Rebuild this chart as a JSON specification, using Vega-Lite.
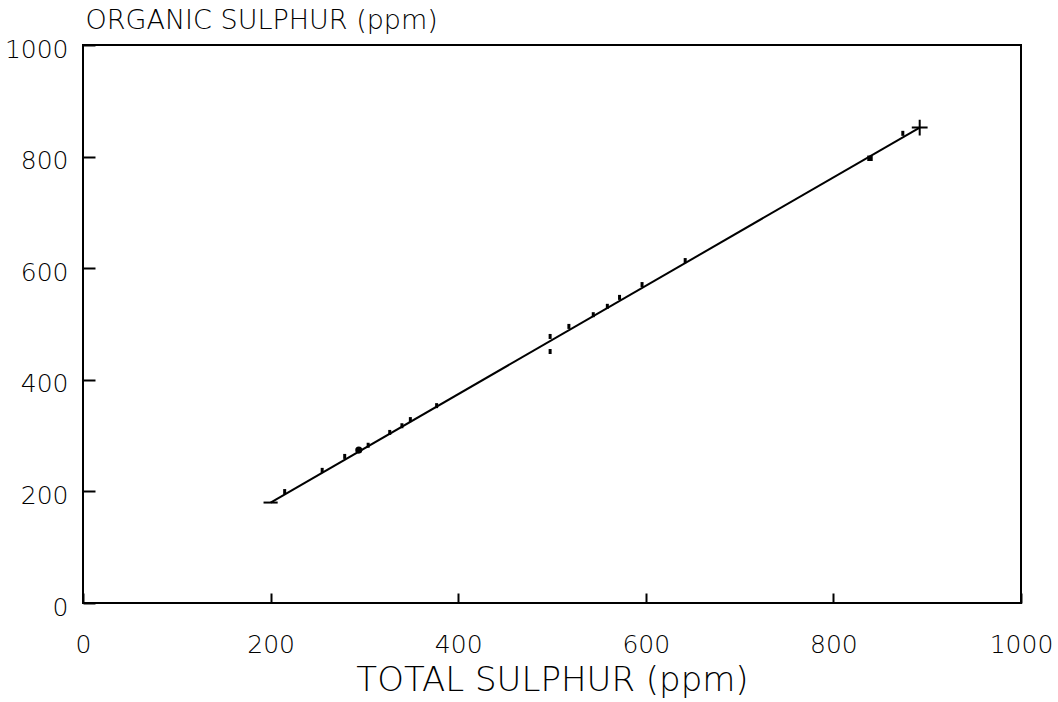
{
  "$schema": "https://vega.github.io/schema/vega-lite/v6.json",
  "width": 938,
  "height": 558,
  "autosize": {"type": "none"},
  "padding": {"left": 83, "top": 45, "right": 37, "bottom": 99},
  "background": "white",
  "config": {
    "view": {"stroke": "black", "strokeWidth": 2},
    "font": "DejaVu Sans",
    "axis": {
      "grid": false,
      "domain": false,
      "labelFlush": false,
      "tickColor": "black",
      "tickWidth": 2,
      "labelColor": "black",
      "labelFont": "DejaVu Sans",
      "labelFontWeight": 200,
      "titleFont": "DejaVu Sans",
      "titleFontWeight": 200,
      "titleColor": "black"
    }
  },
  "datasets": {
    "pts": [
      {"x": 215, "y": 197, "kind": "tick"},
      {"x": 255, "y": 235, "kind": "tick"},
      {"x": 279, "y": 260, "kind": "tick"},
      {"x": 294, "y": 274, "kind": "dot"},
      {"x": 304, "y": 280, "kind": "tick"},
      {"x": 327, "y": 303, "kind": "tick"},
      {"x": 340, "y": 315, "kind": "tick"},
      {"x": 349, "y": 326, "kind": "tick"},
      {"x": 377, "y": 351, "kind": "tick"},
      {"x": 498, "y": 475, "kind": "tick"},
      {"x": 498, "y": 448, "kind": "tick"},
      {"x": 518, "y": 493, "kind": "tick"},
      {"x": 544, "y": 514, "kind": "tick"},
      {"x": 559, "y": 529, "kind": "tick"},
      {"x": 572, "y": 545, "kind": "tick"},
      {"x": 596, "y": 568, "kind": "tick"},
      {"x": 642, "y": 611, "kind": "tick"},
      {"x": 839, "y": 797, "kind": "square"},
      {"x": 874, "y": 839, "kind": "tick"}
    ],
    "fit": [
      {"x": 200, "y": 180},
      {"x": 892, "y": 852}
    ],
    "start": [{"x": 200, "y": 180}],
    "end": [{"x": 892, "y": 852}]
  },
  "encoding": {
    "x": {
      "field": "x", "type": "quantitative",
      "scale": {"domain": [0, 1000], "nice": false, "zero": false},
      "axis": {
        "values": [0, 200, 400, 600, 800, 1000],
        "format": "d",
        "tickSize": -10,
        "labelPadding": 39,
        "labelFontSize": 25,
        "title": "TOTAL SULPHUR (ppm)",
        "titleFontSize": 34,
        "titleBaseline": "alphabetic",
        "titleAnchor": "middle",
        "titleX": 469,
        "titleY": 87
      }
    },
    "y": {
      "field": "y", "type": "quantitative",
      "scale": {"domain": [0, 1000], "nice": false, "zero": false},
      "axis": {
        "values": [0, 200, 400, 600, 800, 1000],
        "format": "d",
        "tickSize": -12,
        "labelPadding": 27,
        "labelFontSize": 25,
        "labelOffset": 4,
        "title": "ORGANIC SULPHUR (ppm)",
        "titleFontSize": 27,
        "titleAngle": 0,
        "titleAlign": "left",
        "titleBaseline": "alphabetic",
        "titleX": 2,
        "titleY": -17
      }
    }
  },
  "layer": [
    {
      "data": {"name": "fit"},
      "mark": {"type": "line", "color": "black", "strokeWidth": 2}
    },
    {
      "data": {"name": "pts"},
      "transform": [{"filter": "datum.kind === 'tick'"}],
      "mark": {"type": "point", "shape": "M0,-1.6L0,0.4", "size": 25, "stroke": "black", "strokeWidth": 3, "opacity": 1}
    },
    {
      "data": {"name": "pts"},
      "transform": [{"filter": "datum.kind === 'dot'"}],
      "mark": {"type": "point", "shape": "circle", "size": 50, "filled": true, "color": "black", "opacity": 1}
    },
    {
      "data": {"name": "pts"},
      "transform": [{"filter": "datum.kind === 'square'"}],
      "mark": {"type": "point", "shape": "square", "size": 30, "filled": true, "color": "black", "opacity": 1}
    },
    {
      "data": {"name": "start"},
      "mark": {"type": "point", "shape": "M-1,0L1,0", "size": 200, "stroke": "black", "strokeWidth": 2, "opacity": 1}
    },
    {
      "data": {"name": "end"},
      "mark": {"type": "point", "shape": "M-1,0L1,0M0,-1L0,1", "size": 250, "stroke": "black", "strokeWidth": 2, "opacity": 1}
    }
  ]
}
